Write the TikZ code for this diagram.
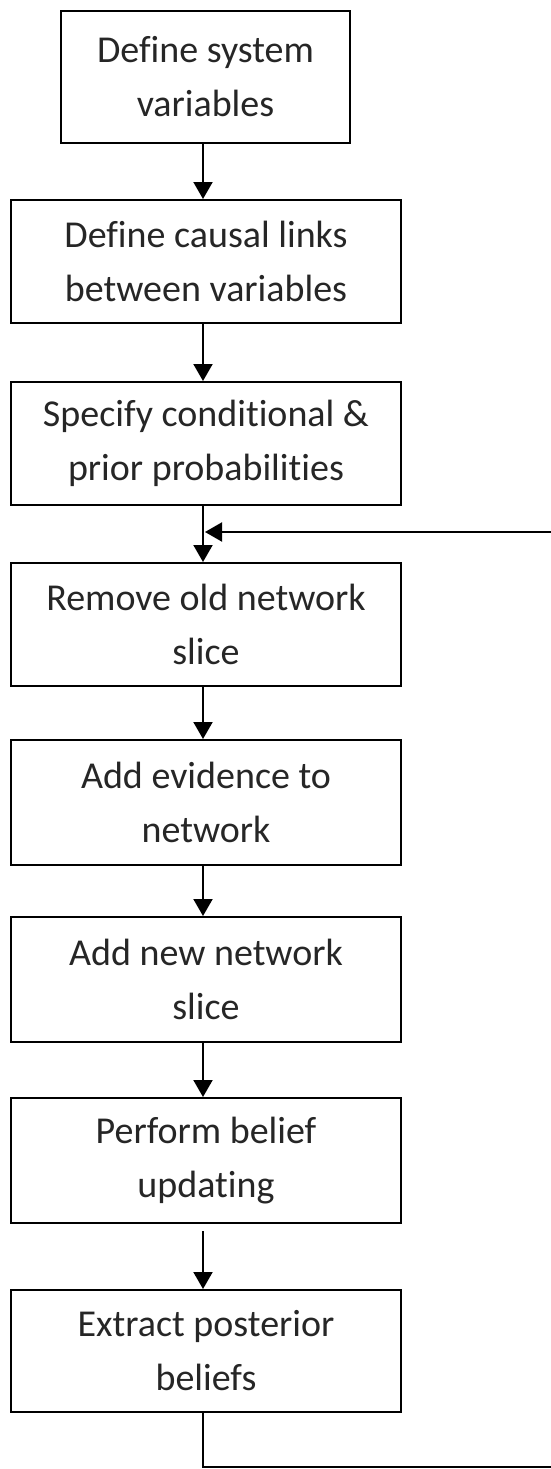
\documentclass[tikz,border=0pt]{standalone}
\usepackage{fontspec}
\setmainfont{Carlito}[Ligatures={NoCommon,NoRare,NoDiscretionary,NoContextual}]
\usetikzlibrary{arrows.meta,positioning,calc}
\tikzset{
  stepbox/.style={draw=black, line width=2pt, rectangle, inner sep=0pt,
    align=center, text=black!85,
    font=\fontsize{38}{54}\selectfont},
  flow/.style={draw=black, line width=2pt, -{Triangle[length=17pt,width=19pt]}},
}
\begin{document}
\begin{tikzpicture}[x=1pt,y=-1pt]
\useasboundingbox (0,0) rectangle (550,1469);
\node[stepbox, minimum width=289pt, minimum height=132pt] (b1) at (205.5,77) {Define system\\variables};
\node[stepbox, minimum width=390pt, minimum height=123pt] (b2) at (206,261.5) {Define causal links\\between variables};
\node[stepbox, minimum width=390pt, minimum height=123pt] (b3) at (206,443.5) {Specify conditional \&\\prior probabilities};
\node[stepbox, minimum width=390pt, minimum height=123pt] (b4) at (206,624.5) {Remove old network\\slice};
\node[stepbox, minimum width=390pt, minimum height=125pt] (b5) at (206,802.5) {Add evidence to\\network};
\node[stepbox, minimum width=390pt, minimum height=125pt] (b6) at (206,979.5) {Add new network\\slice};
\node[stepbox, minimum width=390pt, minimum height=125pt] (b7) at (206,1160.5) {Perform belief\\updating};
\node[stepbox, minimum width=390pt, minimum height=122pt] (b8) at (206,1351) {Extract posterior\\beliefs};
\coordinate (bl) at (203,1467);
\coordinate (br) at (554,1467);
\coordinate (tr) at (554,532);
\coordinate (tl) at (205,532);
\draw[flow] ([xshift=-2.5pt]b1.south) -- ([xshift=-3pt]b2.north);
\draw[flow] ([xshift=-3pt]b2.south) -- ([xshift=-3pt]b3.north);
\draw[flow] ([xshift=-3pt]b3.south) -- ([xshift=-3pt]b4.north);
\draw[flow] ([xshift=-3pt]b4.south) -- ([xshift=-3pt]b5.north);
\draw[flow] ([xshift=-3pt]b5.south) -- ([xshift=-3pt]b6.north);
\draw[flow] ([xshift=-3pt]b6.south) -- ([xshift=-3pt]b7.north);
\draw[flow, shorten <=7pt] ([xshift=-3pt]b7.south) -- ([xshift=-3pt]b8.north);
\draw[line width=2pt] ([xshift=-3pt]b8.south) -- (bl) -- (br) -- (tr);
\draw[flow] (tr) -- (tl);
\end{tikzpicture}
\end{document}
